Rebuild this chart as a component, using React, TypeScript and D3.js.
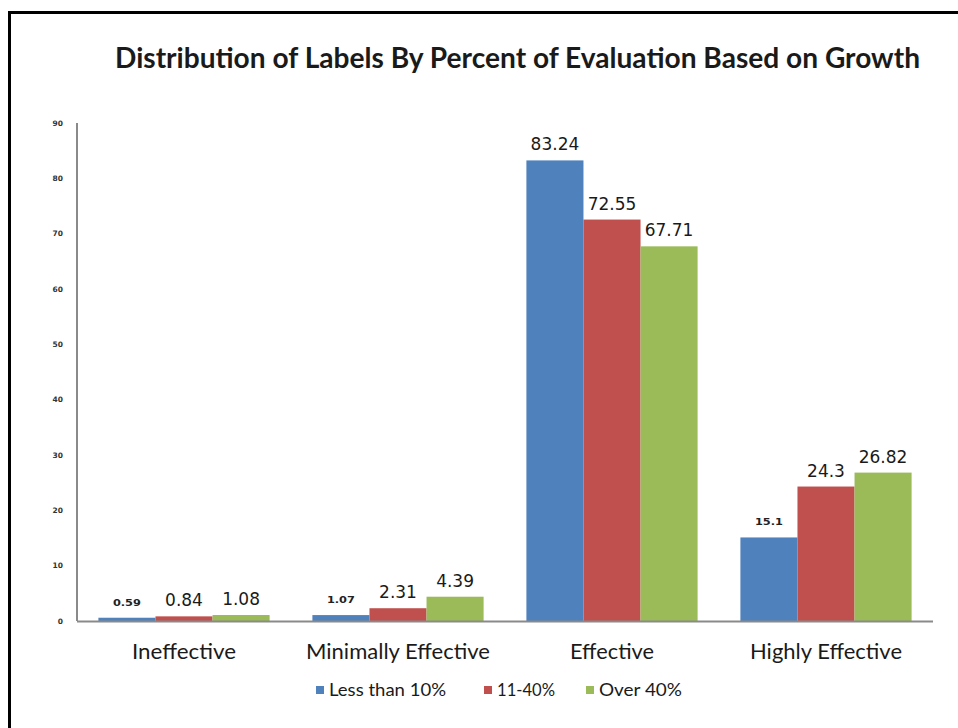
import React from "react";
import * as d3 from "d3";

const categories = ["Ineffective", "Minimally Effective", "Effective", "Highly Effective"];
const seriesNames = ["Less than 10%", "11-40%", "Over 40%"];
const lessThan10 = [0.59, 1.07, 83.24, 15.1];
const from11to40 = [0.84, 2.31, 72.55, 24.3];
const over40 = [1.08, 4.39, 67.71, 26.82];
const yTicks = [0, 10, 20, 30, 40, 50, 60, 70, 80, 90];
const colors = ["#4F81BD", "#C0504D", "#9BBB59"];
const title = "Distribution of Labels By Percent of Evaluation Based on Growth";

const W = 958;
const H = 728;
const plot = { left: 77, right: 933, top: 123, bottom: 621 };

export default function App() {
  const series = [lessThan10, from11to40, over40];
  const x0 = d3
    .scaleBand<string>()
    .domain(categories)
    .range([plot.left, plot.right])
    .paddingInner(0.2)
    .paddingOuter(0.1);
  const x1 = d3.scaleBand<number>().domain([0, 1, 2]).range([0, x0.bandwidth()]);
  const y = d3.scaleLinear().domain([0, 90]).range([plot.bottom, plot.top]);

  const legendItems = [
    { sq: 316, tx: 329, len: 117 },
    { sq: 484, tx: 497, len: 58 },
    { sq: 586, tx: 599, len: 83 },
  ];
  const catLen = [104, 184, 84, 152];

  return (
    <div style={{ position: "absolute", left: 0, top: 0 }}>
      <svg width={W} height={H} style={{ display: "block", background: "#fff" }}>
        {/* frame */}
        <line x1={9.5} y1={12} x2={9.5} y2={H} stroke="#000" strokeWidth={3} />
        <line x1={8} y1={12.5} x2={W} y2={12.5} stroke="#000" strokeWidth={3} />

        <text
          x={115}
          y={68}
          fontFamily="Lato, 'Open Sans', sans-serif"
          fontWeight={700}
          fontSize={28}
          fill="#1a1a1a"
          textLength={805}
          lengthAdjust="spacingAndGlyphs"
        >
          {title}
        </text>

        {/* y ticks */}
        {yTicks.map((t) => (
          <text
            key={t}
            x={63}
            y={y(t)}
            dy="0.35em"
            textAnchor="end"
            fontFamily="'DejaVu Sans', sans-serif"
            fontWeight={700}
            fontSize={7.5}
            fill="#333"
          >
            {t}
          </text>
        ))}

        {/* bars */}
        {categories.map((c, ci) => (
          <g key={c}>
            {series.map((s, si) => {
              const bx = (x0(c) as number) + (x1(si) as number);
              const v = s[ci];
              const small = si === 0 && ci !== 2;
              return (
                <g key={si}>
                  <rect
                    x={bx}
                    y={y(v)}
                    width={x1.bandwidth()}
                    height={plot.bottom - y(v)}
                    fill={colors[si]}
                  />
                  {small ? (
                    <text
                      x={bx + x1.bandwidth() / 2}
                      y={y(v) - 12}
                      textAnchor="middle"
                      fontFamily="'DejaVu Sans', sans-serif"
                      fontWeight={700}
                      fontSize={9.5}
                      fill="#222"
                      textLength={28}
                      lengthAdjust="spacingAndGlyphs"
                    >
                      {v}
                    </text>
                  ) : (
                    <text
                      x={bx + x1.bandwidth() / 2}
                      y={y(v) - 10}
                      textAnchor="middle"
                      fontFamily="'DejaVu Sans', sans-serif"
                      fontSize={17}
                      fill="#1a1a1a"
                    >
                      {v}
                    </text>
                  )}
                </g>
              );
            })}
          </g>
        ))}

        {/* axes */}
        <line x1={plot.left} y1={plot.top} x2={plot.left} y2={plot.bottom} stroke="#8a8a8a" strokeWidth={2} />
        <line x1={plot.left} y1={plot.bottom + 0.5} x2={plot.right} y2={plot.bottom + 0.5} stroke="#8a8a8a" strokeWidth={2} />

        {/* category labels */}
        {categories.map((c, i) => (
          <text
            key={c}
            x={(x0(c) as number) + x0.bandwidth() / 2}
            y={659}
            textAnchor="middle"
            fontFamily="Lato, 'Open Sans', sans-serif"
            fontSize={21}
            fill="#1a1a1a"
            textLength={catLen[i]}
            lengthAdjust="spacingAndGlyphs"
          >
            {c}
          </text>
        ))}

        {/* legend */}
        {seriesNames.map((n, i) => (
          <g key={n}>
            <rect x={legendItems[i].sq} y={686} width={8} height={8} fill={colors[i]} />
            <text
              x={legendItems[i].tx}
              y={696}
              fontFamily="Lato, 'Open Sans', sans-serif"
              fontSize={17}
              fill="#1a1a1a"
              textLength={legendItems[i].len}
              lengthAdjust="spacingAndGlyphs"
            >
              {n}
            </text>
          </g>
        ))}
      </svg>
    </div>
  );
}
